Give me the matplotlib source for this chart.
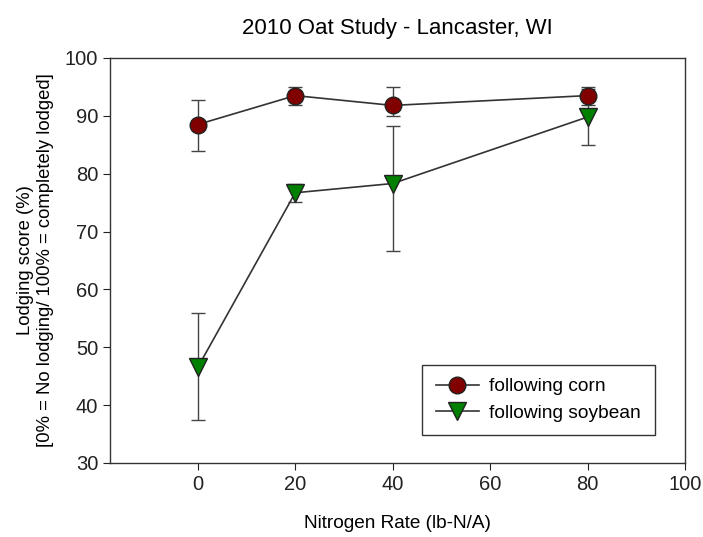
import numpy as np
import matplotlib
matplotlib.use("Agg")
import matplotlib.pyplot as plt
from matplotlib.lines import Line2D

plt.rcParams['font.family'] = ['Liberation Sans', 'DejaVu Sans']

# Data
nitrogen = [0, 20, 40, 80]

corn = [88.5, 93.5, 91.8, 93.5]
corn_err_low = [4.6, 1.7, 1.9, 1.7]
corn_err_high = [4.3, 1.4, 3.1, 1.4]

soy = [46.5, 76.7, 78.3, 89.8]
soy_err_low = [9.1, 1.6, 11.6, 4.8]
soy_err_high = [9.4, 1.6, 10.0, 4.8]

fig = plt.figure(figsize=(7.03, 5.37), dpi=100)
ax = fig.add_axes([0.1565, 0.138, 0.818, 0.754])

ax.errorbar(nitrogen, corn, yerr=[corn_err_low, corn_err_high],
            color="#333333", ecolor="#444444", elinewidth=1, capsize=5,
            linewidth=1.2, marker='o', markersize=12,
            markerfacecolor="#800000", markeredgecolor="#222222", zorder=3)
ax.errorbar(nitrogen, soy, yerr=[soy_err_low, soy_err_high],
            color="#333333", ecolor="#444444", elinewidth=1, capsize=5,
            linewidth=1.2, marker='v', markersize=13,
            markerfacecolor="#008000", markeredgecolor="#222222", zorder=3)

ax.set_xlim(-18, 100)
ax.set_ylim(30, 100)
ax.set_xticks([0, 20, 40, 60, 80, 100])
ax.set_yticks([30, 40, 50, 60, 70, 80, 90, 100])
ax.tick_params(direction='out', length=5, labelsize=14.5, colors="#222222",
               top=False, right=False)
for s in ax.spines.values():
    s.set_color("#333333")
    s.set_linewidth(1.0)

ax.set_title("2010 Oat Study - Lancaster, WI", fontsize=16, pad=17)
ax.set_xlabel("Nitrogen Rate (lb-N/A)", fontsize=13.7, labelpad=15)
ax.set_ylabel("Lodging score (%)\n[0% = No lodging/ 100% = completely lodged]",
              fontsize=13.3, labelpad=8, linespacing=1.2)

handles = [
    Line2D([], [], color="#333333", linewidth=1.2, marker='o', markersize=12,
           markerfacecolor="#800000", markeredgecolor="#222222"),
    Line2D([], [], color="#333333", linewidth=1.2, marker='v', markersize=13,
           markerfacecolor="#008000", markeredgecolor="#222222"),
]
leg = ax.legend(handles, ["following corn", "following soybean"],
                loc='lower left', bbox_to_anchor=(0.543, 0.069),
                fontsize=13.8, fancybox=False, framealpha=1,
                edgecolor="#333333", handlelength=2.25, handletextpad=0.55,
                borderpad=0.7, labelspacing=0.45, borderaxespad=0)
leg.get_frame().set_linewidth(1.0)

fig.savefig("out.png", dpi=100)
